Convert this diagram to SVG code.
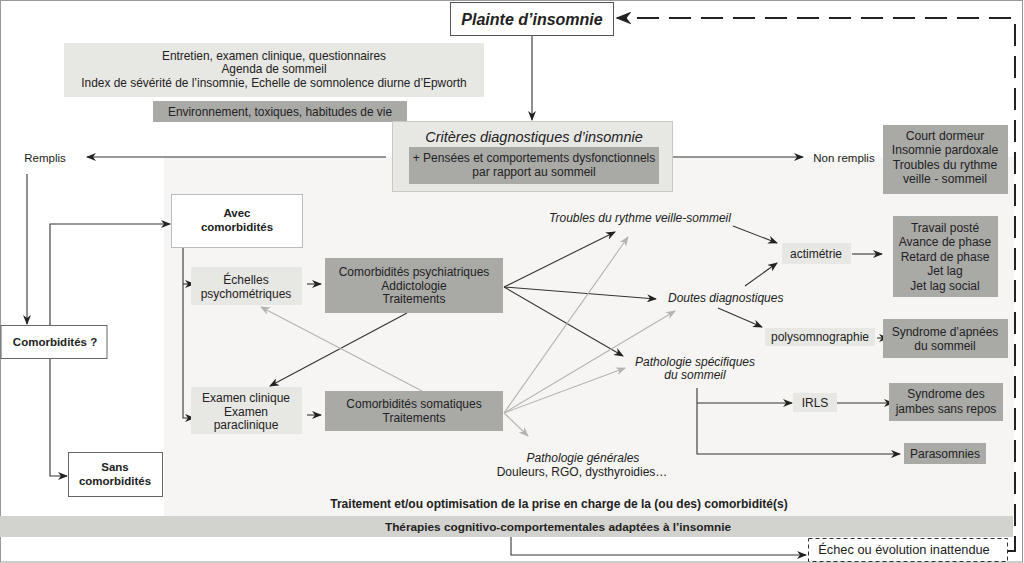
<svg xmlns="http://www.w3.org/2000/svg" width="1024" height="563" viewBox="0 0 1024 563">
<style>
text{font-family:"Liberation Sans",Arial,sans-serif;fill:#222;text-anchor:middle;}
.t11{font-size:11.9px;}
.t12{font-size:12px;}
.b{font-weight:bold;font-size:11.5px;}
.it{font-style:italic;font-size:12px;}
.light{fill:#e7e7e3;}
.dark{fill:#a9a9a6;}
.ln{stroke:#333;stroke-width:1.1;fill:none;}
.gl{stroke:#b3b3b3;stroke-width:1.1;fill:none;}
</style>
<defs>
<marker id="ah" viewBox="0 0 10 8" refX="9" refY="4" markerWidth="10" markerHeight="8" markerUnits="userSpaceOnUse" orient="auto">
<path d="M0,0 L10,4 L0,8 L3,4 z" fill="#222"/>
</marker>
<marker id="ahg" viewBox="0 0 10 8" refX="9" refY="4" markerWidth="10" markerHeight="8" markerUnits="userSpaceOnUse" orient="auto">
<path d="M0,0 L10,4 L0,8 L3,4 z" fill="#b3b3b3"/>
</marker>
<marker id="ahb" viewBox="0 0 10 8" refX="9" refY="4" markerWidth="16" markerHeight="13" markerUnits="userSpaceOnUse" orient="auto">
<path d="M0,0 L10,4 L0,8 L3,4 z" fill="#222"/>
</marker>
</defs>
<rect x="0" y="0" width="1024" height="563" fill="#fff"/>
<rect x="0.5" y="0.5" width="1022" height="561.5" fill="none" stroke="#999" stroke-width="1"/>
<rect x="164" y="157" width="850" height="359" fill="#f6f5f3"/>
<rect x="0" y="516" width="1013" height="21" fill="#d2d2ce"/>

<g id="connectors">
<line class="ln" x1="532" y1="35" x2="532" y2="120" marker-end="url(#ah)"/>
<line class="ln" x1="386" y1="157" x2="87" y2="157" marker-end="url(#ah)"/>
<line class="ln" x1="673" y1="157" x2="803" y2="157" marker-end="url(#ah)"/>
<line class="ln" x1="27" y1="174" x2="27" y2="324" marker-end="url(#ah)"/>
<path class="ln" d="M50,325 V224 H170" marker-end="url(#ah)"/>
<path class="ln" d="M50,358 V476 H67" marker-end="url(#ah)"/>
<path class="ln" d="M183,247 V418 H194" marker-end="url(#ah)"/>
<path class="ln" d="M183,284 H194" marker-end="url(#ah)"/>
<line class="ln" x1="307" y1="284" x2="321" y2="284" marker-end="url(#ah)"/>
<line class="ln" x1="307" y1="415" x2="321" y2="415" marker-end="url(#ah)"/>
<line class="ln" x1="407" y1="313" x2="270" y2="386" marker-end="url(#ah)"/>
<line class="gl" x1="422" y1="391" x2="261" y2="307" marker-end="url(#ahg)"/>
<line class="ln" x1="504" y1="287" x2="615" y2="232" marker-end="url(#ah)"/>
<line class="ln" x1="504" y1="287" x2="656" y2="299" marker-end="url(#ah)"/>
<line class="ln" x1="504" y1="287" x2="623" y2="356" marker-end="url(#ah)"/>
<line class="gl" x1="504" y1="413" x2="628" y2="237" marker-end="url(#ahg)"/>
<line class="gl" x1="504" y1="413" x2="675" y2="311" marker-end="url(#ahg)"/>
<line class="gl" x1="504" y1="413" x2="625" y2="368" marker-end="url(#ahg)"/>
<line class="gl" x1="504" y1="413" x2="528" y2="436" marker-end="url(#ahg)"/>
<line class="ln" x1="733" y1="226" x2="777" y2="243" marker-end="url(#ah)"/>
<line class="ln" x1="745" y1="286" x2="777" y2="263" marker-end="url(#ah)"/>
<line class="ln" x1="852" y1="254" x2="882" y2="254" marker-end="url(#ah)"/>
<line class="ln" x1="718" y1="308" x2="762" y2="327" marker-end="url(#ah)"/>
<line class="ln" x1="877" y1="338" x2="888" y2="338" marker-end="url(#ah)"/>
<path class="ln" d="M697,388 V454 H900" marker-end="url(#ah)"/>
<path class="ln" d="M697,403 H792" marker-end="url(#ah)"/>
<line class="ln" x1="837" y1="403" x2="893" y2="403" marker-end="url(#ah)"/>
<path class="ln" d="M511,537 V555 H806" marker-end="url(#ah)"/>
<path d="M1008,551 H1015 V18 H617" fill="none" stroke="#222" stroke-width="2" stroke-dasharray="22,10" marker-end="url(#ahb)"/>
</g>

<g id="plainte">
<rect x="450.5" y="2.5" width="163" height="33" fill="#fff" stroke="#555" stroke-width="1"/>
<text x="532" y="25" style="font-size:16px;font-weight:bold;font-style:italic">Plainte d’insomnie</text>
</g>

<g id="entretien">
<rect class="light" x="64" y="43" width="420" height="54"/>
<text class="t11" x="274" y="60">Entretien, examen clinique, questionnaires</text>
<text class="t11" x="274" y="73">Agenda de sommeil</text>
<text class="t11" x="274" y="87">Index de sévérité de l’insomnie, Echelle de somnolence diurne d’Epworth</text>
</g>

<g id="environnement">
<rect class="dark" x="153" y="101" width="254" height="21"/>
<text class="t11" x="280" y="116">Environnement, toxiques, habitudes de vie</text>
</g>

<g id="criteres">
<rect class="light" x="392.5" y="121.5" width="280" height="70" stroke="#c8c8c5" stroke-width="1"/>
<text x="534" y="142" style="font-size:14.5px;font-style:italic">Critères diagnostiques d’insomnie</text>
<rect class="dark" x="409" y="147" width="250" height="37"/>
<text class="t12" x="534" y="162">+ Pensées et comportements dysfonctionnels</text>
<text class="t12" x="534" y="176">par rapport au sommeil</text>
</g>

<g id="remplis"><text x="45" y="162" style="font-size:11.5px">Remplis</text></g>
<g id="nonremplis"><text x="844" y="162" style="font-size:11.5px">Non remplis</text></g>

<g id="court">
<rect class="dark" x="883" y="125" width="125" height="69"/>
<text x="945" y="140" style="font-size:12.2px">Court dormeur</text>
<text x="945" y="154" style="font-size:12.2px">Insomnie pardoxale</text>
<text x="945" y="169" style="font-size:12.2px">Troubles du rythme</text>
<text x="945" y="183" style="font-size:12.2px">veille - sommeil</text>
</g>

<g id="comorbidites">
<rect x="1" y="325.5" width="106" height="33" fill="#fff" stroke="#666" stroke-width="1"/>
<text class="b" x="55" y="346">Comorbidités ?</text>
</g>

<g id="avec">
<rect x="171.5" y="194.5" width="131" height="53" fill="#fff" stroke="#bbb" stroke-width="1"/>
<text class="b" x="237" y="217">Avec</text>
<text class="b" x="237" y="231">comorbidités</text>
</g>

<g id="sans">
<rect x="68.5" y="452.5" width="94" height="44" fill="#fff" stroke="#666" stroke-width="1"/>
<text class="b" x="115" y="471">Sans</text>
<text class="b" x="115" y="485">comorbidités</text>
</g>

<g id="echelles">
<rect class="light" x="191" y="267" width="111" height="38"/>
<text class="t12" x="246" y="284">Échelles</text>
<text class="t12" x="246" y="298">psychométriques</text>
</g>

<g id="examen">
<rect class="light" x="191" y="387" width="111" height="47"/>
<text class="t12" x="246" y="402">Examen clinique</text>
<text class="t12" x="246" y="416">Examen</text>
<text class="t12" x="246" y="429">paraclinique</text>
</g>

<g id="psych">
<rect class="dark" x="325" y="258" width="178" height="55"/>
<text class="t12" x="414" y="276">Comorbidités psychiatriques</text>
<text class="t12" x="414" y="290">Addictologie</text>
<text class="t12" x="414" y="303">Traitements</text>
</g>

<g id="somatic">
<rect class="dark" x="325" y="391" width="178" height="40"/>
<text class="t12" x="414" y="408">Comorbidités somatiques</text>
<text class="t12" x="414" y="422">Traitements</text>
</g>

<g id="troubles"><text class="it" x="640" y="222">Troubles du rythme veille-sommeil</text></g>
<g id="doutes"><text class="it" x="668" y="302" style="text-anchor:start">Doutes diagnostiques</text></g>
<g id="pathspec">
<text class="it" x="695" y="366">Pathologie spécifiques</text>
<text class="it" x="695" y="379">du sommeil</text>
</g>
<g id="pathgen">
<text class="it" x="583" y="462">Pathologie générales</text>
<text class="t12" x="582" y="476">Douleurs, RGO, dysthyroidies…</text>
</g>

<g id="actimetrie">
<rect class="light" x="782" y="243" width="69" height="21"/>
<text class="t12" x="816" y="258">actimétrie</text>
</g>

<g id="travail">
<rect class="dark" x="893" y="216" width="105" height="81"/>
<text class="t12" x="945" y="232">Travail posté</text>
<text class="t12" x="945" y="246">Avance de phase</text>
<text class="t12" x="945" y="261">Retard de phase</text>
<text class="t12" x="945" y="275">Jet lag</text>
<text class="t12" x="945" y="290">Jet lag social</text>
</g>

<g id="polysomno">
<rect class="light" x="765" y="328" width="110" height="18"/>
<text class="t12" x="820" y="341">polysomnographie</text>
</g>

<g id="apnees">
<rect class="dark" x="883" y="319" width="125" height="39"/>
<text class="t12" x="945" y="336">Syndrome d’apnées</text>
<text class="t12" x="945" y="350">du sommeil</text>
</g>

<g id="irls">
<rect class="light" x="793" y="393" width="44" height="19"/>
<text class="t12" x="815" y="407">IRLS</text>
</g>

<g id="jambes">
<rect class="dark" x="889" y="383" width="114" height="38"/>
<text class="t12" x="946" y="398">Syndrome des</text>
<text class="t12" x="946" y="413">jambes sans repos</text>
</g>

<g id="parasomnies">
<rect class="dark" x="904" y="443" width="82" height="21"/>
<text class="t12" x="945" y="458">Parasomnies</text>
</g>

<g id="traitement">
<text class="b" x="559" y="508" style="font-size:12px">Traitement et/ou optimisation de la prise en charge de la (ou des) comorbidité(s)</text>
</g>

<g id="tcc">
<text class="b" x="558" y="531" style="font-size:11.8px">Thérapies cognitivo-comportementales adaptées à l’insomnie</text>
</g>

<g id="echec">
<rect x="808.5" y="538.5" width="199" height="23" fill="#fff" stroke="#333" stroke-width="1" stroke-dasharray="4,3"/>
<text x="904" y="554" style="font-size:12.8px">Échec ou évolution inattendue</text>
</g>
</svg>
